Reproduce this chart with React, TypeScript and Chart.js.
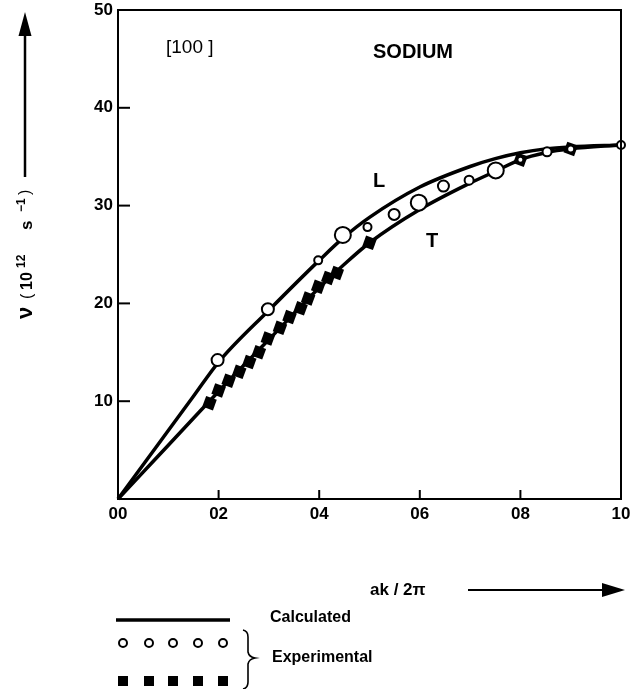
import React, { useEffect, useRef } from "react";
import { Chart, registerables } from "chart.js";

Chart.register(...registerables);

// ---- data ----
const xTickValues = [0, 0.2, 0.4, 0.6, 0.8, 1.0];
const yTickValues = [0, 10, 20, 30, 40, 50];

const calcX = [0, 0.05, 0.1, 0.15, 0.2, 0.3, 0.4, 0.45, 0.5, 0.6, 0.7, 0.75, 0.8, 0.85, 0.9, 1.0];
const calcL = [0, 3.5, 7.0, 10.5, 14.0, 19.3, 24.4, 26.8, 28.8, 31.9, 34.0, 34.8, 35.4, 35.8, 36.0, 36.2];
const calcT = [0, 2.75, 5.5, 8.25, 11.0, 16.3, 21.6, 24.0, 26.2, 29.6, 32.3, 33.5, 34.7, 35.4, 35.8, 36.2];

const circleX = [0.198, 0.298, 0.398, 0.447, 0.496, 0.549, 0.598, 0.647, 0.698, 0.751, 0.8, 0.853, 0.9, 1.0];
const circleY = [14.2, 19.4, 24.4, 27.0, 27.8, 29.1, 30.3, 32.0, 32.6, 33.6, 34.7, 35.5, 35.8, 36.2];

const squareX = [0.182, 0.2, 0.22, 0.241, 0.261, 0.28, 0.298, 0.322, 0.341, 0.363, 0.378, 0.398, 0.418, 0.435, 0.5, 0.8, 0.9];
const squareY = [9.8, 11.1, 12.1, 13.0, 14.0, 15.0, 16.4, 17.5, 18.6, 19.5, 20.5, 21.7, 22.6, 23.1, 26.2, 34.7, 35.8];

// ---- styles ----
const circleRadii = [6, 6, 4, 8, 4, 5.5, 8, 5.5, 4.5, 8, 3, 4.5, 3.5, 4];
const FONT = "'Liberation Sans', Arial, sans-serif";

const zip = (xs: number[], ys: number[]) => xs.map((x, i) => ({ x, y: ys[i] }));

const decorPlugin = {
  id: "decor",
  afterDraw(chart: any) {
    const ctx: CanvasRenderingContext2D = chart.ctx;
    const a = chart.chartArea;
    const xs = chart.scales.x;
    const ys = chart.scales.y;
    ctx.save();
    ctx.strokeStyle = "#000";
    ctx.fillStyle = "#000";
    ctx.lineCap = "butt";

    // top & right frame
    ctx.lineWidth = 2;
    ctx.beginPath();
    ctx.moveTo(a.left, a.top);
    ctx.lineTo(a.right, a.top);
    ctx.lineTo(a.right, a.bottom);
    ctx.stroke();

    // inner ticks
    ctx.lineWidth = 2;
    xTickValues.forEach((v) => {
      if (v === 0 || v === 1) return;
      const px = xs.getPixelForValue(v);
      ctx.beginPath();
      ctx.moveTo(px, a.bottom);
      ctx.lineTo(px, a.bottom - 9);
      ctx.stroke();
    });
    yTickValues.forEach((v) => {
      if (v === 0 || v === 50) return;
      const py = ys.getPixelForValue(v);
      ctx.beginPath();
      ctx.moveTo(a.left, py);
      ctx.lineTo(a.left + 12, py);
      ctx.stroke();
    });

    // in-plot labels
    ctx.textBaseline = "middle";
    ctx.textAlign = "left";
    ctx.font = `19px ${FONT}`;
    ctx.fillText("[100 ]", 166, 48);
    ctx.font = `bold 20px ${FONT}`;
    ctx.fillText("SODIUM", 373, 52);
    ctx.textAlign = "center";
    ctx.fillText("L", 379, 181);
    ctx.fillText("T", 432, 241);

    // y-axis title (rotated) and arrow
    ctx.save();
    ctx.translate(32, 320);
    ctx.rotate(-Math.PI / 2);
    ctx.textAlign = "left";
    ctx.textBaseline = "alphabetic";
    ctx.font = `bold 22px ${FONT}`;
    ctx.fillText("\u03bd", 1, 0);
    ctx.font = `16px ${FONT}`;
    ctx.fillText("(", 21, 0);
    ctx.font = `bold 16px ${FONT}`;
    ctx.fillText("10", 30, 0);
    ctx.font = `bold 12px ${FONT}`;
    ctx.fillText("12", 52, -7);
    ctx.font = `bold 17px ${FONT}`;
    ctx.fillText("s", 90, 0);
    ctx.font = `bold 12px ${FONT}`;
    ctx.fillText("\u22121", 108, -7);
    ctx.font = `16px ${FONT}`;
    ctx.fillText(")", 125, -2);
    ctx.restore();

    ctx.lineWidth = 2.5;
    ctx.beginPath();
    ctx.moveTo(25, 177);
    ctx.lineTo(25, 30);
    ctx.stroke();
    ctx.beginPath();
    ctx.moveTo(25, 12);
    ctx.lineTo(18.5, 36);
    ctx.lineTo(31.5, 36);
    ctx.closePath();
    ctx.fill();

    // x-axis title and arrow
    ctx.textAlign = "left";
    ctx.textBaseline = "middle";
    ctx.font = `bold 17px ${FONT}`;
    ctx.fillText("ak / 2\u03c0", 370, 590);
    ctx.lineWidth = 2;
    ctx.beginPath();
    ctx.moveTo(468, 590);
    ctx.lineTo(606, 590);
    ctx.stroke();
    ctx.beginPath();
    ctx.moveTo(625, 590);
    ctx.lineTo(602, 583);
    ctx.lineTo(602, 597);
    ctx.closePath();
    ctx.fill();

    // legend
    ctx.lineWidth = 3.5;
    ctx.beginPath();
    ctx.moveTo(116, 620);
    ctx.lineTo(230, 620);
    ctx.stroke();
    const lx = [123, 149, 173, 198, 223];
    ctx.lineWidth = 2;
    lx.forEach((x) => {
      ctx.beginPath();
      ctx.arc(x, 643, 4, 0, Math.PI * 2);
      ctx.fillStyle = "#fff";
      ctx.fill();
      ctx.stroke();
      ctx.fillStyle = "#000";
      ctx.fillRect(x - 5, 676, 10, 10);
    });
    // brace
    ctx.lineWidth = 1.6;
    ctx.beginPath();
    ctx.moveTo(243, 630);
    ctx.quadraticCurveTo(248, 631, 248, 637);
    ctx.lineTo(248, 652);
    ctx.quadraticCurveTo(249, 657, 255, 658);
    ctx.quadraticCurveTo(249, 659, 248, 664);
    ctx.lineTo(248, 682);
    ctx.quadraticCurveTo(248, 688, 243, 689);
    ctx.stroke();

    ctx.font = `bold 16px ${FONT}`;
    ctx.textAlign = "left";
    ctx.fillText("Calculated", 270, 618);
    ctx.fillText("Experimental", 272, 658);

    ctx.restore();
  },
};

export default function App() {
  const ref = useRef<HTMLCanvasElement | null>(null);

  useEffect(() => {
    if (!ref.current) return;
    const chart = new Chart(ref.current, {
      type: "scatter",
      data: {
        datasets: [
          {
            label: "Experimental (open)",
            data: zip(circleX, circleY),
            showLine: false,
            pointStyle: "circle",
            pointRadius: circleRadii,
            backgroundColor: "#fff",
            borderColor: "#000",
            borderWidth: 2,
            clip: false,
          },
          {
            label: "Experimental (filled)",
            data: zip(squareX, squareY),
            showLine: false,
            pointStyle: "rect",
            pointRadius: 8,
            pointRotation: 20,
            backgroundColor: "#000",
            borderColor: "#000",
            borderWidth: 0,
            clip: false,
          },
          {
            label: "L calculated",
            data: zip(calcX, calcL),
            showLine: true,
            pointRadius: 0,
            borderColor: "#000",
            borderWidth: 3.5,
            cubicInterpolationMode: "monotone",
            clip: false,
          },
          {
            label: "T calculated",
            data: zip(calcX, calcT),
            showLine: true,
            pointRadius: 0,
            borderColor: "#000",
            borderWidth: 3.5,
            cubicInterpolationMode: "monotone",
            clip: false,
          },
        ],
      },
      options: {
        animation: false,
        responsive: false,
        maintainAspectRatio: false,
        events: [],
        layout: { padding: { left: 0, right: 4, top: 10, bottom: 160 } },
        plugins: { legend: { display: false }, tooltip: { enabled: false } },
        scales: {
          x: {
            type: "linear",
            min: 0,
            max: 1,
            afterBuildTicks: (s: any) => {
              s.ticks = xTickValues.map((value) => ({ value }));
            },
            afterFit: (s: any) => {
              s.height = 30;
              s.paddingLeft = 0;
              s.paddingRight = 0;
            },
            grid: { display: true, drawOnChartArea: false, drawTicks: false },
            border: { display: true, color: "#000", width: 2 },
            ticks: {
              padding: 5,
              color: "#000",
              maxRotation: 0,
              autoSkip: false,
              font: { family: FONT, weight: "bold", size: 17 },
              callback: (v: any) => String(Math.round(Number(v) * 10)).padStart(2, "0"),
            },
          },
          y: {
            type: "linear",
            min: 0,
            max: 50,
            afterBuildTicks: (s: any) => {
              s.ticks = yTickValues.map((value) => ({ value }));
            },
            afterFit: (s: any) => {
              s.width = 118;
              s.paddingTop = 0;
              s.paddingBottom = 0;
            },
            grid: { display: true, drawOnChartArea: false, drawTicks: false },
            border: { display: true, color: "#000", width: 2 },
            ticks: {
              padding: 5,
              color: "#000",
              font: { family: FONT, weight: "bold", size: 17 },
              callback: (v: any) => (Number(v) === 0 ? "" : String(v)),
            },
          },
        },
      },
      plugins: [decorPlugin],
    } as any);
    return () => chart.destroy();
  }, []);

  return (
    <div style={{ position: "absolute", left: 0, top: 0, width: 631, height: 689, background: "#fff" }}>
      <canvas ref={ref} width={631} height={689} style={{ display: "block", width: 631, height: 689 }} />
    </div>
  );
}
